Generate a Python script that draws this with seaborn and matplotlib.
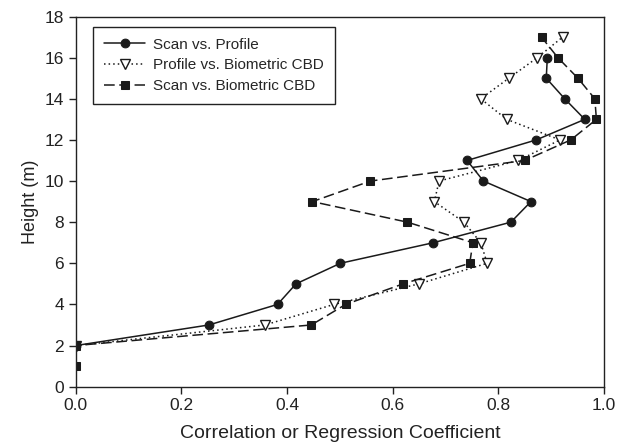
import matplotlib
matplotlib.use("Agg")
import matplotlib.pyplot as plt
import seaborn as sns
import pandas as pd

# Scan vs. Profile
h_sp = [2, 3, 4, 5, 6, 7, 8, 9, 10, 11, 12, 13, 14, 15, 16]
x_sp = [0.0, 0.252, 0.382, 0.417, 0.501, 0.677, 0.824, 0.862, 0.772, 0.741,
        0.872, 0.964, 0.926, 0.891, 0.893]

# Profile vs. Biometric CBD
h_pb = [2, 3, 4, 5, 6, 7, 8, 9, 10, 11, 12, 13, 14, 15, 16, 17]
x_pb = [0.0, 0.358, 0.489, 0.650, 0.779, 0.767, 0.735, 0.679, 0.688, 0.838,
        0.917, 0.816, 0.767, 0.820, 0.874, 0.922]

# Scan vs. Biometric CBD
h_sb = [1, 2, 3, 4, 5, 6, 7, 8, 9, 10, 11, 12, 13, 14, 15, 16, 17]
x_sb = [0.0, 0.0, 0.446, 0.511, 0.620, 0.746, 0.752, 0.628, 0.448, 0.558,
        0.850, 0.9375, 0.986, 0.983, 0.951, 0.913, 0.882]

labels = ["Scan vs. Profile", "Profile vs. Biometric CBD", "Scan vs. Biometric CBD"]
x_ticks = [0.0, 0.2, 0.4, 0.6, 0.8, 1.0]
y_ticks = [0, 2, 4, 6, 8, 10, 12, 14, 16, 18]

sns.set_style("ticks")
plt.rcParams['font.family'] = ['Liberation Sans', 'DejaVu Sans']

fig = plt.figure(figsize=(6.27, 4.47), dpi=100)
ax = fig.add_axes([0.121, 0.135, 0.842, 0.828])

df_sp = pd.DataFrame({"x": x_sp, "h": h_sp})
df_pb = pd.DataFrame({"x": x_pb, "h": h_pb})
df_sb = pd.DataFrame({"x": x_sb, "h": h_sb})

ink = "#1a1a1a"
sns.lineplot(data=df_sp, x="x", y="h", sort=False, estimator=None, ax=ax,
             color=ink, linewidth=1.1, linestyle="-", marker="o",
             markersize=6.3, markerfacecolor=ink, markeredgecolor=ink,
             label=labels[0])
sns.lineplot(data=df_pb, x="x", y="h", sort=False, estimator=None, ax=ax,
             color=ink, linewidth=1.1, linestyle=(0, (1, 2)), marker="v",
             markersize=6.5, markerfacecolor="white", markeredgecolor=ink,
             markeredgewidth=1.0, label=labels[1])
sns.lineplot(data=df_sb, x="x", y="h", sort=False, estimator=None, ax=ax,
             color=ink, linewidth=1.1, linestyle=(0, (7, 3)), marker="s",
             markersize=5.8, markerfacecolor=ink, markeredgecolor=ink,
             label=labels[2])

ax.set_xlim(0, 1.0)
ax.set_ylim(0, 18)
ax.set_xticks(x_ticks)
ax.set_xticklabels([f"{t:.1f}" for t in x_ticks])
ax.set_yticks(y_ticks)
ax.tick_params(axis="both", direction="out", length=5, width=1, labelsize=12.5,
               colors="#222222", top=False, right=False)
for s in ax.spines.values():
    s.set_visible(True)
    s.set_color("#222222")
    s.set_linewidth(1.0)

ax.set_xlabel("Correlation or Regression Coefficient", fontsize=14, color="#222222",
              labelpad=8)
ax.set_ylabel("Height (m)", fontsize=13, color="#222222")

leg = ax.legend(loc="upper left", bbox_to_anchor=(0.0328, 0.973), borderaxespad=0,
                fontsize=11, frameon=True, fancybox=False, handlelength=2.7,
                borderpad=0.72, labelspacing=0.45, handletextpad=0.5)
leg.get_frame().set_edgecolor("#222222")
leg.get_frame().set_linewidth(1.0)
leg.get_frame().set_alpha(1)

fig.savefig("out.png", dpi=100)
